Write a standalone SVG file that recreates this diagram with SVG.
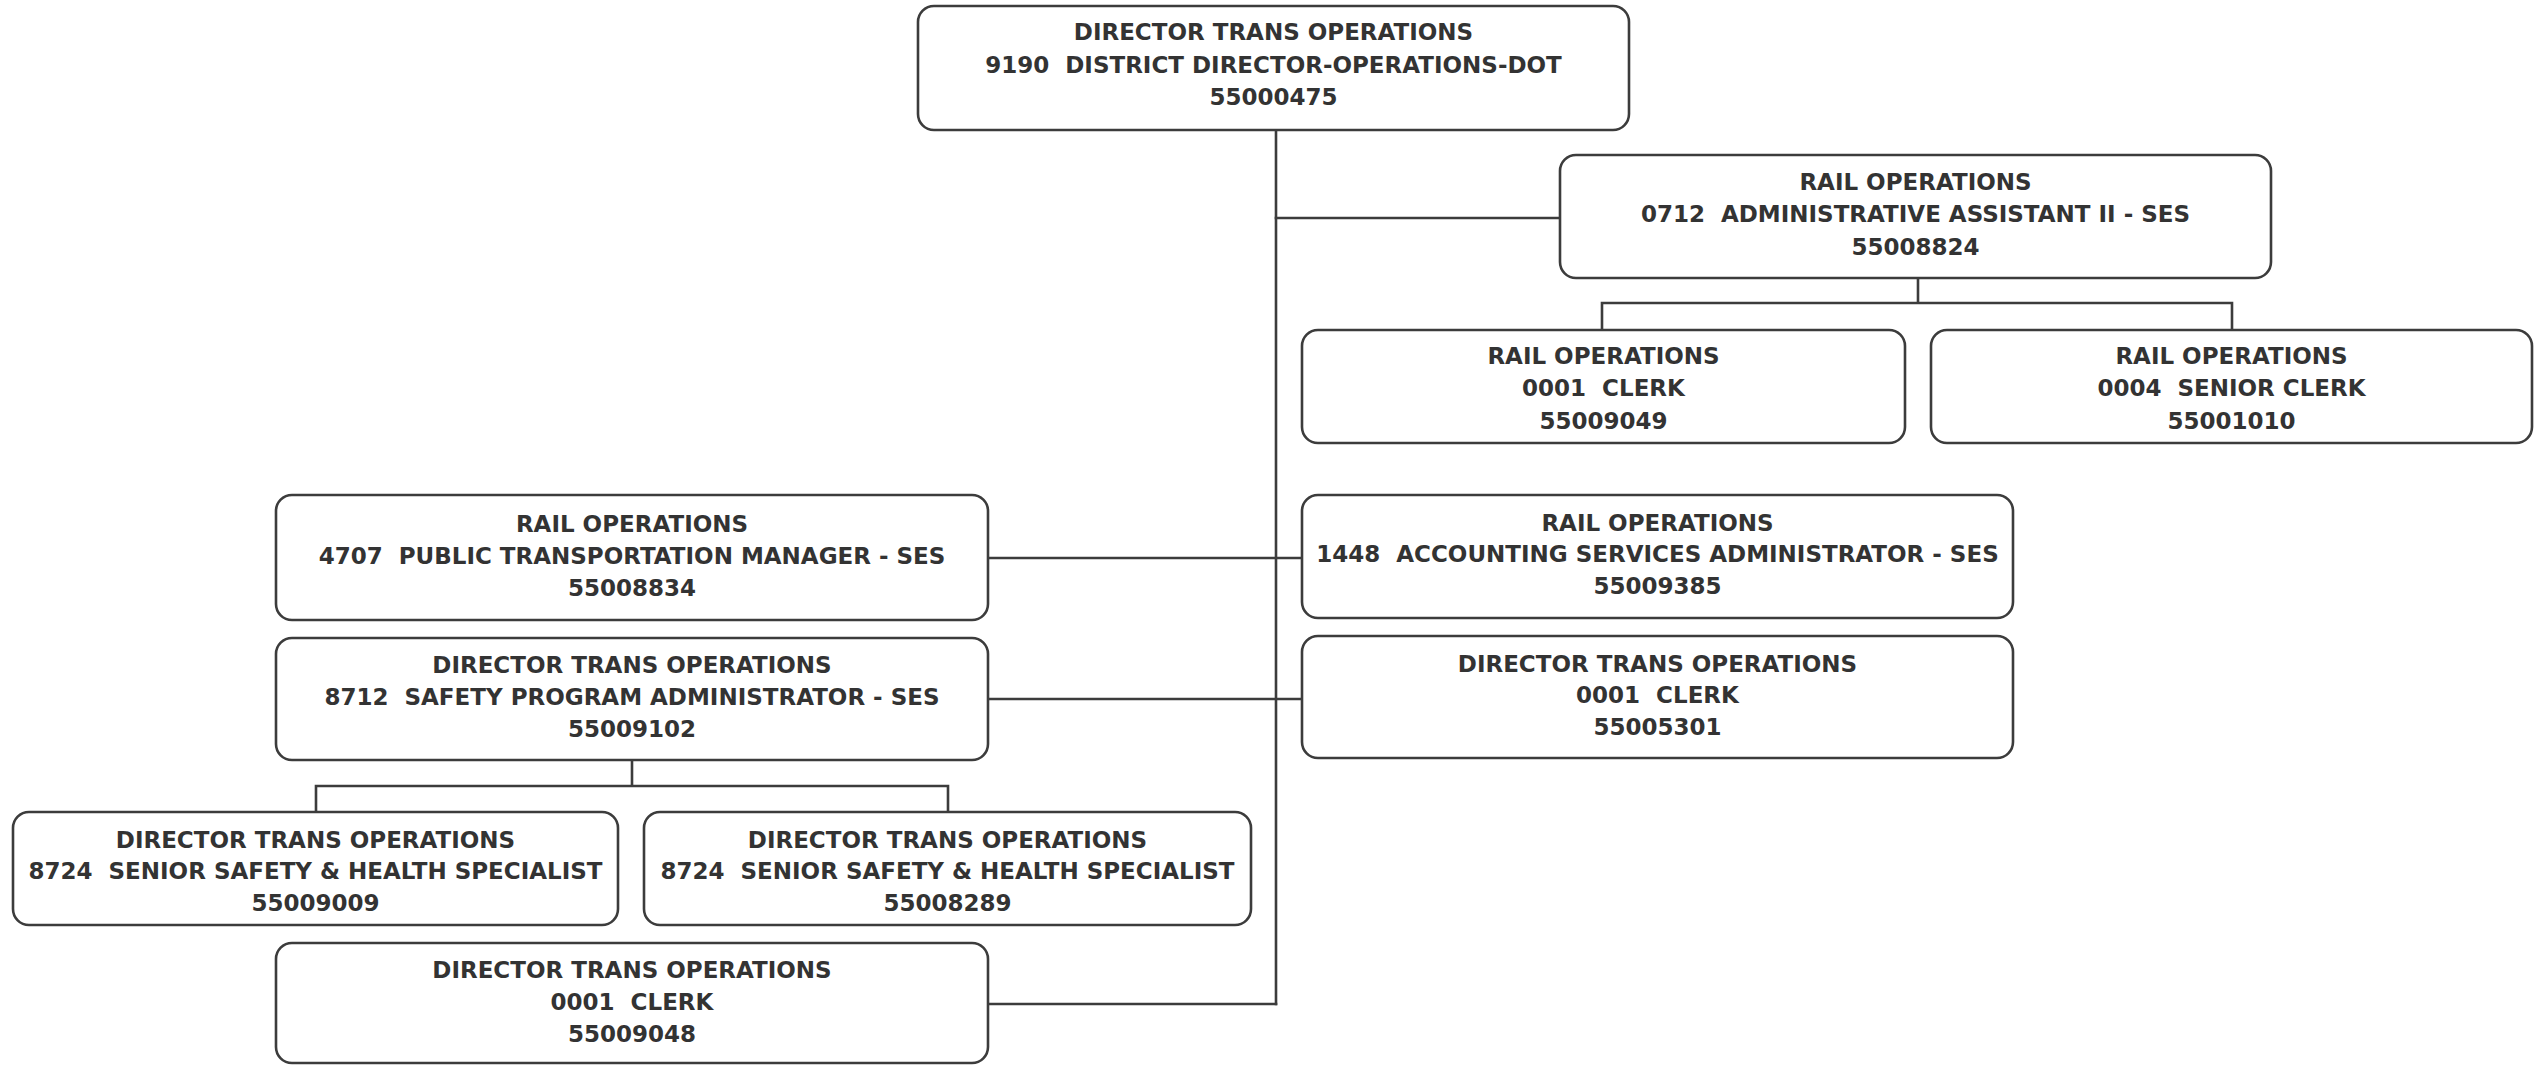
<svg xmlns="http://www.w3.org/2000/svg" width="2545" height="1066" viewBox="0 0 2545 1066">
  <style>
    .box { fill: #ffffff; stroke: #3c3c3c; stroke-width: 2.6; }
    .lbl { font-family: "DejaVu Sans", Verdana, sans-serif; font-weight: bold; font-size: 23px; fill: #333333; text-anchor: middle; }
    .wire { fill: none; stroke: #3c3c3c; stroke-width: 2.6; stroke-linecap: square; }
  </style>
  <rect width="2545" height="1066" fill="#ffffff"/>

  <!-- reporting lines -->
  <g id="connectors">
    <path class="wire" d="M1276 130 V1004"/>
    <path class="wire" d="M1276 218 H1560"/>
    <path class="wire" d="M1918 278 V303 M1602 330 V303 H2232 V330"/>
    <path class="wire" d="M988 558 H1302"/>
    <path class="wire" d="M988 699 H1302"/>
    <path class="wire" d="M632 760 V786 M316 812 V786 H948 V812"/>
    <path class="wire" d="M988 1004 H1276"/>
  </g>

  <g id="n55000475">
    <rect class="box" x="918" y="6" width="711" height="124" rx="16"/>
    <text class="lbl" x="1273.5" y="40">DIRECTOR TRANS OPERATIONS</text>
    <text class="lbl" x="1273.5" y="73" xml:space="preserve">9190  DISTRICT DIRECTOR-OPERATIONS-DOT</text>
    <text class="lbl" x="1273.5" y="105">55000475</text>
  </g>

  <g id="n55008824">
    <rect class="box" x="1560" y="155" width="711" height="123" rx="16"/>
    <text class="lbl" x="1915.5" y="190">RAIL OPERATIONS</text>
    <text class="lbl" x="1915.5" y="222" xml:space="preserve">0712  ADMINISTRATIVE ASSISTANT II - SES</text>
    <text class="lbl" x="1915.5" y="254.5">55008824</text>
  </g>

  <g id="n55009049">
    <rect class="box" x="1302" y="330" width="603" height="113" rx="16"/>
    <text class="lbl" x="1603.5" y="364">RAIL OPERATIONS</text>
    <text class="lbl" x="1603.5" y="396" xml:space="preserve">0001  CLERK</text>
    <text class="lbl" x="1603.5" y="428.5">55009049</text>
  </g>

  <g id="n55001010">
    <rect class="box" x="1931" y="330" width="601" height="113" rx="16"/>
    <text class="lbl" x="2231.5" y="364">RAIL OPERATIONS</text>
    <text class="lbl" x="2231.5" y="396" xml:space="preserve">0004  SENIOR CLERK</text>
    <text class="lbl" x="2231.5" y="428.5">55001010</text>
  </g>

  <g id="n55008834">
    <rect class="box" x="276" y="495" width="712" height="125" rx="16"/>
    <text class="lbl" x="632" y="531.5">RAIL OPERATIONS</text>
    <text class="lbl" x="632" y="563.5" xml:space="preserve">4707  PUBLIC TRANSPORTATION MANAGER - SES</text>
    <text class="lbl" x="632" y="595.5">55008834</text>
  </g>

  <g id="n55009385">
    <rect class="box" x="1302" y="495" width="711" height="123" rx="16"/>
    <text class="lbl" x="1657.5" y="530.5">RAIL OPERATIONS</text>
    <text class="lbl" x="1657.5" y="562" xml:space="preserve">1448  ACCOUNTING SERVICES ADMINISTRATOR - SES</text>
    <text class="lbl" x="1657.5" y="594">55009385</text>
  </g>

  <g id="n55009102">
    <rect class="box" x="276" y="638" width="712" height="122" rx="16"/>
    <text class="lbl" x="632" y="672.5">DIRECTOR TRANS OPERATIONS</text>
    <text class="lbl" x="632" y="704.5" xml:space="preserve">8712  SAFETY PROGRAM ADMINISTRATOR - SES</text>
    <text class="lbl" x="632" y="736.5">55009102</text>
  </g>

  <g id="n55005301">
    <rect class="box" x="1302" y="636" width="711" height="122" rx="16"/>
    <text class="lbl" x="1657.5" y="671.5">DIRECTOR TRANS OPERATIONS</text>
    <text class="lbl" x="1657.5" y="703" xml:space="preserve">0001  CLERK</text>
    <text class="lbl" x="1657.5" y="734.5">55005301</text>
  </g>

  <g id="n55009009">
    <rect class="box" x="13" y="812" width="605" height="113" rx="16"/>
    <text class="lbl" x="315.5" y="847.5">DIRECTOR TRANS OPERATIONS</text>
    <text class="lbl" x="315.5" y="878.5" xml:space="preserve">8724  SENIOR SAFETY &amp; HEALTH SPECIALIST</text>
    <text class="lbl" x="315.5" y="910.5">55009009</text>
  </g>

  <g id="n55008289">
    <rect class="box" x="644" y="812" width="607" height="113" rx="16"/>
    <text class="lbl" x="947.5" y="847.5">DIRECTOR TRANS OPERATIONS</text>
    <text class="lbl" x="947.5" y="878.5" xml:space="preserve">8724  SENIOR SAFETY &amp; HEALTH SPECIALIST</text>
    <text class="lbl" x="947.5" y="910.5">55008289</text>
  </g>

  <g id="n55009048">
    <rect class="box" x="276" y="943" width="712" height="120" rx="16"/>
    <text class="lbl" x="632" y="977.5">DIRECTOR TRANS OPERATIONS</text>
    <text class="lbl" x="632" y="1009.5" xml:space="preserve">0001  CLERK</text>
    <text class="lbl" x="632" y="1041.5">55009048</text>
  </g>
</svg>
